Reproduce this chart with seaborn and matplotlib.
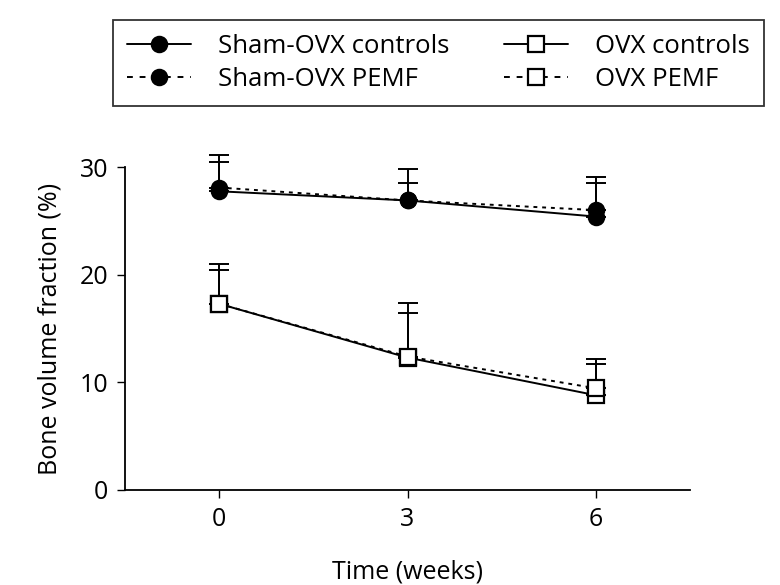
import matplotlib
matplotlib.use("Agg")
import matplotlib.pyplot as plt
import numpy as np
import pandas as pd
import seaborn as sns

sns.set_style("ticks")
plt.rcParams['font.family'] = ['Open Sans', 'DejaVu Sans']
plt.rcParams['text.color'] = 'black'
plt.rcParams['axes.labelcolor'] = 'black'

weeks = [0, 3, 6]
groups = ["Sham-OVX controls", "Sham-OVX PEMF", "OVX controls", "OVX PEMF"]
means = {
    "Sham-OVX controls": [27.75, 26.9, 25.4],
    "Sham-OVX PEMF": [28.1, 26.9, 26.0],
    "OVX controls": [17.3, 12.3, 8.8],
    "OVX PEMF": [17.3, 12.4, 9.45],
}
# upper SD only
errs = {
    "Sham-OVX controls": [2.75, 2.9, 3.65],
    "Sham-OVX PEMF": [3.0, 1.6, 2.5],
    "OVX controls": [3.7, 5.1, 3.35],
    "OVX PEMF": [3.1, 4.0, 2.25],
}

rows = []
for g in groups:
    for w, m in zip(weeks, means[g]):
        rows.append({"Time": w, "BV": m, "Group": g})
df = pd.DataFrame(rows)

styles = {
    "Sham-OVX controls": dict(ls="-", leg_ls="-", marker="o", mfc="black", ms=11),
    "Sham-OVX PEMF": dict(ls=(0, (2, 2.5)), leg_ls=(0, (3, 3.5)), marker="o", mfc="black", ms=11),
    "OVX controls": dict(ls="-", leg_ls="-", marker="s", mfc="white", ms=11.5),
    "OVX PEMF": dict(ls=(0, (2, 2.5)), leg_ls=(0, (3, 3.5)), marker="s", mfc="white", ms=11.5),
}

fig = plt.figure(figsize=(7.8, 5.85), dpi=100)
ax = fig.add_axes([0.16, 0.1624, 0.725, 0.552])

handles = []
for g in groups:
    st = styles[g]
    sub = df[df["Group"] == g]
    eb = ax.errorbar(sub["Time"], sub["BV"], yerr=[np.zeros(3), errs[g]],
                     fmt="none", ecolor="black", elinewidth=1.4, capsize=7,
                     capthick=1.4, zorder=1)
    for a in eb.lines[1] + eb.lines[2]:
        a.set_clip_on(False)
    sns.lineplot(data=sub, x="Time", y="BV", ax=ax, color="black",
                 linewidth=1.4, zorder=2, legend=False)
    ln = ax.lines[-1]
    ln.set_linestyle(st["ls"])
    ln.set_marker(st["marker"])
    ln.set_markerfacecolor(st["mfc"])
    ln.set_markeredgecolor("black")
    ln.set_markeredgewidth(1.6)
    ln.set_markersize(st["ms"])
    ln.set_clip_on(False)
    h, = ax.plot([], [], color="black", linewidth=1.4, linestyle=st["leg_ls"],
                 marker=st["marker"], mfc=st["mfc"], mec="black", mew=1.6,
                 ms=st["ms"], label=g)
    handles.append(h)

ax.set_xlim(-1.5, 7.5)
ax.set_ylim(0, 30)
ax.set_xticks(weeks)
ax.set_yticks([0, 10, 20, 30])
sns.despine(ax=ax)
for s in ["left", "bottom"]:
    ax.spines[s].set_linewidth(1.3)
    ax.spines[s].set_color("black")
ax.tick_params(width=1.0, length=6, labelsize=18, colors="black", pad=6)
ax.set_xlabel("Time (weeks)", fontsize=18, labelpad=20)
ax.set_ylabel("Bone volume fraction (%)", fontsize=18, labelpad=12)

leg = fig.legend(handles=handles, ncol=2, loc="upper left",
                 bbox_to_anchor=(113 / 780, 1 - 20 / 585),
                 fontsize=18.5, frameon=True, fancybox=False, edgecolor="black",
                 handlelength=2.5, columnspacing=2.1, borderpad=0.55,
                 borderaxespad=0, labelspacing=0.3, handletextpad=1.05)
leg.get_frame().set_linewidth(1.3)

fig.savefig("out.png", dpi=100)
